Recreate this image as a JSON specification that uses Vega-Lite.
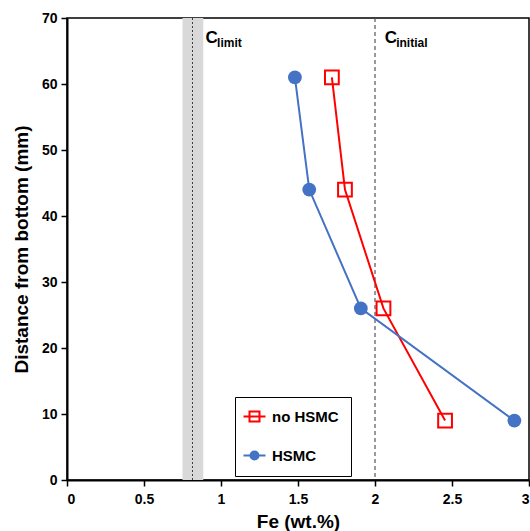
{
  "$schema": "https://vega.github.io/schema/vega-lite/v6.json",
  "width": 462,
  "height": 462,
  "autosize": {"type": "none"},
  "padding": {"left": 67, "top": 18, "right": 1, "bottom": 51},
  "background": "white",
  "config": {
    "font": "Liberation Sans",
    "view": {"stroke": "black", "strokeWidth": 1.5},
    "axis": {
      "grid": false,
      "domainColor": "black",
      "domainWidth": 2,
      "tickColor": "black",
      "tickWidth": 1.5,
      "tickSize": 6,
      "labelFont": "Liberation Sans",
      "labelFontSize": 14,
      "labelFontWeight": "bold",
      "labelColor": "black",
      "titleFont": "Liberation Sans",
      "titleFontSize": 19,
      "titleFontWeight": "bold",
      "titleColor": "black"
    },
    "legend": {
      "orient": "none", "legendX": 168, "legendY": 379, "title": null,
      "strokeColor": "black", "fillColor": "white", "padding": 12,
      "labelFont": "Liberation Sans", "labelFontSize": 15, "labelFontWeight": "bold", "labelColor": "black",
      "labelOffset": 10, "rowPadding": 21, "symbolSize": 100, "symbolStrokeWidth": 2, "symbolOpacity": 1
    }
  },
  "datasets": {
    "series": [
      {"series": "no HSMC", "fe": 1.72, "dist": 61},
      {"series": "no HSMC", "fe": 1.805, "dist": 44},
      {"series": "no HSMC", "fe": 2.055, "dist": 26},
      {"series": "no HSMC", "fe": 2.455, "dist": 9},
      {"series": "HSMC", "fe": 1.48, "dist": 61},
      {"series": "HSMC", "fe": 1.573, "dist": 44},
      {"series": "HSMC", "fe": 1.908, "dist": 26},
      {"series": "HSMC", "fe": 2.905, "dist": 9}
    ],
    "notes": [
      {"fe": 0.9, "dist": 67, "main": "C", "sub": "limit"},
      {"fe": 2.063, "dist": 67, "main": "C", "sub": "initial"}
    ]
  },
  "encoding": {
    "x": {
      "field": "fe",
      "type": "quantitative",
      "scale": {"domain": [0, 3], "nice": false, "zero": false},
      "axis": {"values": [0, 0.5, 1, 1.5, 2, 2.5, 3], "format": "~g", "title": "Fe (wt.%)", "titlePadding": 6, "labelPadding": 6}
    },
    "y": {
      "field": "dist",
      "type": "quantitative",
      "scale": {"domain": [0, 70], "nice": false},
      "axis": {"values": [0, 10, 20, 30, 40, 50, 60, 70], "title": "Distance from bottom (mm)", "titlePadding": 10, "labelPadding": 4}
    }
  },
  "layer": [
    {
      "data": {"name": "series"},
      "mark": {"type": "point", "strokeWidth": 2, "size": 100, "opacity": 0},
      "encoding": {
        "shape": {"field": "series", "type": "nominal", "scale": {"domain": ["no HSMC", "HSMC"], "range": ["M-2.2,0H2.2M-1,-1H1V1H-1Z", "M-2.2,0H2.2M-0.8,0A0.8,0.8,0,1,0,0.8,0A0.8,0.8,0,1,0,-0.8,0Z"]}},
        "stroke": {"field": "series", "type": "nominal", "scale": {"domain": ["no HSMC", "HSMC"], "range": ["#ff0000", "#4472c4"]}},
        "fill": {"field": "series", "type": "nominal", "scale": {"domain": ["no HSMC", "HSMC"], "range": ["transparent", "#4472c4"]}}
      }
    },
    {
      "data": {"values": [{"lo": 0.75, "hi": 0.885}]},
      "mark": {"type": "rect", "color": "#d9d9d9"},
      "encoding": {"x": {"field": "lo", "type": "quantitative"}, "x2": {"field": "hi"}, "y": null}
    },
    {
      "data": {"values": [{"v": 0.815}]},
      "mark": {"type": "rule", "color": "#404040", "strokeDash": [2, 2], "strokeWidth": 1},
      "encoding": {"x": {"field": "v", "type": "quantitative"}, "y": null}
    },
    {
      "data": {"values": [{"v": 2.0}]},
      "mark": {"type": "rule", "color": "#555555", "strokeDash": [4, 3], "strokeWidth": 1.2},
      "encoding": {"x": {"field": "v", "type": "quantitative"}, "y": null}
    },
    {
      "data": {"name": "series"},
      "mark": {"type": "line", "strokeWidth": 2},
      "encoding": {
        "stroke": {"field": "series", "type": "nominal", "scale": {"domain": ["no HSMC", "HSMC"], "range": ["#ff0000", "#4472c4"]}},
        "order": {"field": "dist", "type": "quantitative"}
      }
    },
    {
      "data": {"name": "series"},
      "transform": [{"filter": "datum.series === 'no HSMC'"}],
      "mark": {"type": "point", "shape": "square", "filled": false, "color": "#ff0000", "strokeWidth": 2, "size": 190, "opacity": 1}
    },
    {
      "data": {"name": "series"},
      "transform": [{"filter": "datum.series === 'HSMC'"}],
      "mark": {"type": "point", "shape": "circle", "filled": true, "color": "#4472c4", "size": 190, "opacity": 1}
    },
    {
      "data": {"name": "notes"},
      "mark": {"type": "text", "align": "left", "baseline": "middle", "fontSize": 17, "fontWeight": "bold", "color": "black"},
      "encoding": {"text": {"field": "main"}}
    },
    {
      "data": {"name": "notes"},
      "mark": {"type": "text", "align": "left", "baseline": "middle", "fontSize": 12, "fontWeight": "bold", "color": "black", "dx": 11.5, "dy": 5},
      "encoding": {"text": {"field": "sub"}}
    }
  ]
}
